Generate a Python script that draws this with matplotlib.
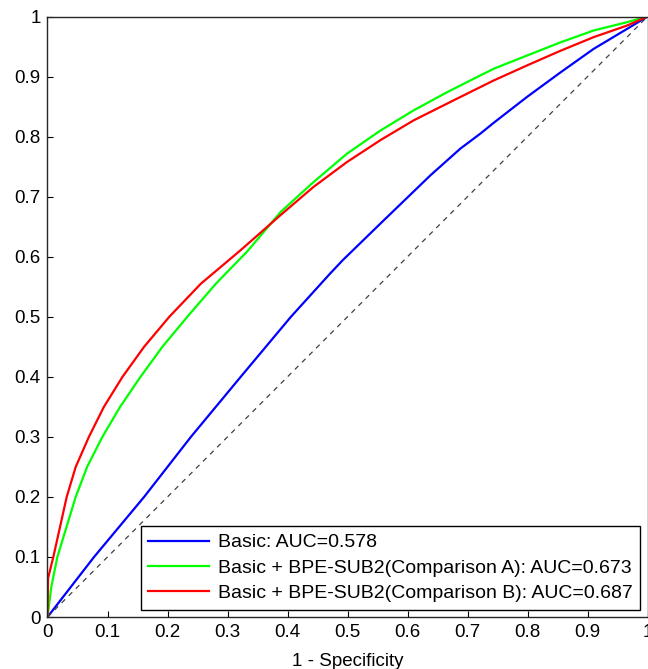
import numpy as np
import matplotlib
matplotlib.use('Agg')
import matplotlib.pyplot as plt

plt.rcParams['font.family'] = ['Liberation Sans', 'DejaVu Sans']

# ROC points (1 - specificity, sensitivity)
basic_fpr = [0, 0.0776, 0.161, 0.239, 0.322, 0.4057, 0.471, 0.4918, 0.5546, 0.638,
             0.688, 0.7214, 0.7436, 0.799, 0.855, 0.910, 0.966, 1]
basic_tpr = [0, 0.1, 0.2, 0.3, 0.4, 0.5, 0.572, 0.594, 0.655, 0.7354,
             0.780, 0.805, 0.823, 0.866, 0.907, 0.946, 0.9795, 1]

compA_fpr = [0, 0.0063, 0.0164, 0.047, 0.066, 0.0915, 0.121, 0.155, 0.1915, 0.233, 0.2805,
             0.333, 0.388, 0.443, 0.499, 0.5546, 0.610, 0.666, 0.7214, 0.7436, 0.799,
             0.855, 0.910, 0.966, 1]
compA_tpr = [0, 0.05, 0.1, 0.2, 0.25, 0.3, 0.35, 0.4, 0.45, 0.5, 0.555,
             0.609, 0.674, 0.724, 0.7715, 0.810, 0.8436, 0.874, 0.902, 0.913, 0.935,
             0.957, 0.9767, 0.9906, 1]

compB_fpr = [0, 0.001, 0.0097, 0.032, 0.047, 0.069, 0.094, 0.125, 0.161, 0.203, 0.2555,
             0.322, 0.388, 0.443, 0.499, 0.5546, 0.610, 0.666, 0.688, 0.7436, 0.799,
             0.855, 0.910, 0.966, 1]
compB_tpr = [0, 0.065, 0.1, 0.2, 0.25, 0.3, 0.35, 0.4, 0.45, 0.5, 0.555,
             0.611, 0.669, 0.716, 0.7576, 0.794, 0.827, 0.855, 0.866, 0.8935, 0.9185,
             0.943, 0.9656, 0.985, 1]

labels = ['Basic: AUC=0.578',
          'Basic + BPE-SUB2(Comparison A): AUC=0.673',
          'Basic + BPE-SUB2(Comparison B): AUC=0.687']
ticks = [0, 0.1, 0.2, 0.3, 0.4, 0.5, 0.6, 0.7, 0.8, 0.9, 1]
tick_labels = ['0', '0.1', '0.2', '0.3', '0.4', '0.5', '0.6', '0.7', '0.8', '0.9', '1']

fig = plt.figure(figsize=(6.48, 6.69), dpi=100)
ax = fig.add_axes([0.0733, 0.0777, 0.926, 0.8976])

ax.plot(basic_fpr, basic_tpr, color=(0, 0, 1), lw=1.6, label=labels[0])
ax.plot(compA_fpr, compA_tpr, color=(0, 1, 0), lw=1.6, label=labels[1])
ax.plot(compB_fpr, compB_tpr, color=(1, 0, 0), lw=1.6, label=labels[2])
ax.plot([0, 1], [0, 1], color='0.25', lw=0.9, ls=(0, (4, 4)))

ax.set_xlim(0, 1)
ax.set_ylim(0, 1)
ax.set_xticks(ticks)
ax.set_xticklabels(tick_labels)
ax.set_yticks(ticks)
ax.set_yticklabels(tick_labels)
ax.tick_params(direction='in', length=4, width=0.8, labelsize=13.5, pad=5)
for s in ax.spines.values():
    s.set_linewidth(1.0)
    s.set_color('0.15')

ax.set_xlabel('1 - Specificity', fontsize=13.5, labelpad=9)

leg = ax.legend(loc='lower right', bbox_to_anchor=(0.9875, 0.0117), borderaxespad=0,
                fontsize=14, handlelength=3.1, handletextpad=0.45, labelspacing=0.4,
                borderpad=0.4, fancybox=False, framealpha=1, edgecolor='black')
leg.get_frame().set_linewidth(1.0)

fig.savefig('out.png', dpi=100)
